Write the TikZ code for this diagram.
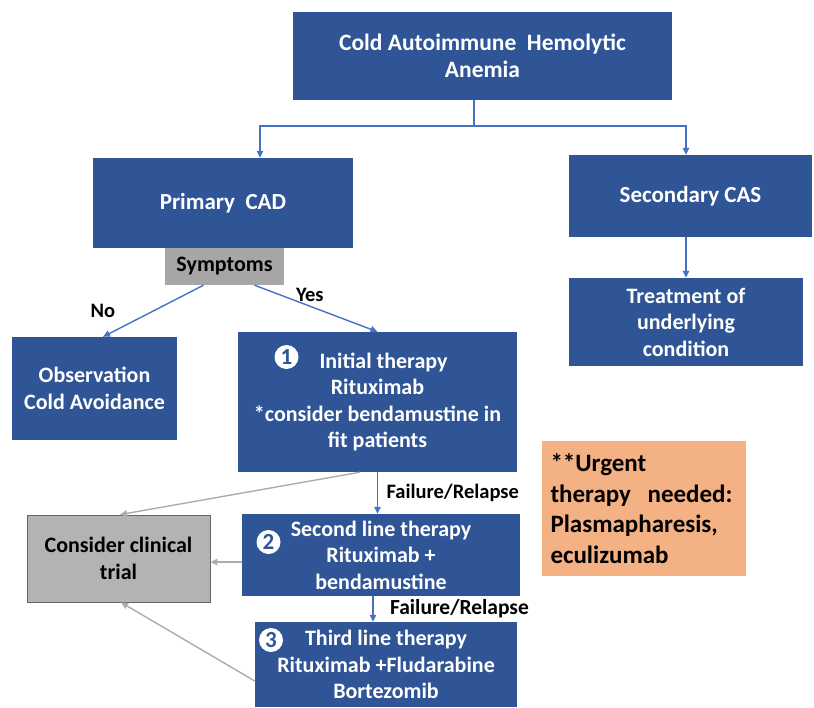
\documentclass[tikz,border=0pt]{standalone}
\usepackage{fontspec}
\setmainfont{Carlito}
\usetikzlibrary{positioning,arrows.meta}
\definecolor{boxblue}{HTML}{2F5597}
\definecolor{lineblue}{HTML}{4472C4}
\definecolor{boxgray}{HTML}{A6A6A6}
\definecolor{trialgray}{HTML}{B3B3B3}
\definecolor{boxorange}{HTML}{F4B183}

\begin{document}
\begin{tikzpicture}[x=1pt, y=-1pt, >={Triangle[length=7pt,width=6.5pt]},
		main/.style = {fill=boxblue, text=white, align=center, inner sep=0pt,
			font=\fontsize{22}{26.5}\selectfont\bfseries},
		g/.style = {fill=boxgray, text=black, align=center, inner sep=0pt,
			font=\fontsize{22}{26.5}\selectfont\bfseries},
		b/.style = {draw=lineblue, line width=1.4pt, ->},
		gr/.style = {draw=gray!65, line width=1.4pt, ->},
		num/.style = {circle, fill=white, text=boxblue, inner sep=0pt, minimum size=24pt,
			font=\fontsize{23}{23}\selectfont\bfseries},
		lbl/.style = {text=black, font=\fontsize{20.5}{24}\selectfont\bfseries}]
		\useasboundingbox (0,0) rectangle (814,707);
		\node[main, minimum width=379pt, minimum height=88pt, font=\fontsize{23.5}{27}\selectfont\bfseries] (1) at (482.5,56) {Cold Autoimmune~ Hemolytic\\Anemia};
		\node[main, minimum width=260pt, minimum height=90pt, font=\fontsize{23}{27}\selectfont\bfseries] (2) at (223,203) {Primary~ CAD};
		\node[main, minimum width=243pt, minimum height=82pt, font=\fontsize{23}{27}\selectfont\bfseries] (3) at (690.5,196) {Secondary CAS};
		\node[g, minimum width=119pt, minimum height=37pt] (4) at (224.5,266.5) {Symptoms};
		\node[main, minimum width=165pt, minimum height=103pt] (5) at (94.5,388.5) {Observation\\Cold Avoidance};
		\node[main, minimum width=279pt, minimum height=140pt] (6) at (377.5,402) {\hspace*{12pt}Initial therapy\\Rituximab\\*consider bendamustine in\\fit patients};
		\node[main, minimum width=234pt, minimum height=88pt] (7) at (686,322) {Treatment of\\underlying\\condition};
		\node[fill=boxorange, text=black, align=left, text width=186pt, inner xsep=9pt, minimum height=135pt,
			font=\fontsize{25}{30.5}\selectfont\bfseries] (8) at (643.5,508.5) {**Urgent\\therapy~ needed:\\Plasmapharesis,\\eculizumab};
		\node[g, fill=trialgray, draw=gray!80!black, line width=0.8pt, minimum width=183pt, minimum height=87pt] (9) at (118.5,558.5) {Consider clinical\\trial};
		\node[main, minimum width=278pt, minimum height=82pt] (10) at (381,555) {Second line therapy\\Rituximab +\\bendamustine};
		\node[main, minimum width=262pt, minimum height=85pt] (11) at (386,664.5) {Third line therapy\\Rituximab +Fludarabine\\Bortezomib};
		\node[num] (n1) at (286.5,357) {1};
		\node[num] (n2) at (268.5,542) {2};
		\node[num] (n3) at (271,640) {3};
		% branches from the top box
		\coordinate (j1) at (260,126);
		\coordinate (j2) at (686,126);
		\draw[b] ([xshift=-8.5pt]1.south) |- (j1) -- (j1 |- 2.north);
		\draw[b] (j1) -- (j2) -- (j2 |- 3.north);
		\draw[b] (j2 |- 3.south) -- (j2 |- 7.north);
		% symptoms
		\draw[b] ([xshift=-21pt]4.south) -- ([xshift=8.5pt]5.north) node[lbl, midway, left=34pt] {No};
		\draw[b] ([xshift=30pt]4.south) -- (6.north) node[lbl, pos=0.45, above] {Yes};
		% therapy lines
		\draw[b] (6.south) -- (6.south |- 10.north) node[lbl, midway, right=5pt] {Failure/Relapse};
		\draw[b] ([xshift=-8pt]10.south) -- ([xshift=-8pt]10.south |- 11.north) node[lbl, midway, right=13pt, font=\fontsize{21.5}{24}\selectfont\bfseries] {Failure/Relapse};
		% clinical trial
		\draw[gr] ([xshift=-17.5pt]6.south) -- ([xshift=1.5pt]9.north);
		\draw[gr] ([yshift=-7pt]10.west) -- ([yshift=-7pt]10.west -| 9.east);
		\draw[gr] ([yshift=-16.5pt]11.west) -- ([xshift=2.5pt]9.south);
	\end{tikzpicture}
\end{document}
